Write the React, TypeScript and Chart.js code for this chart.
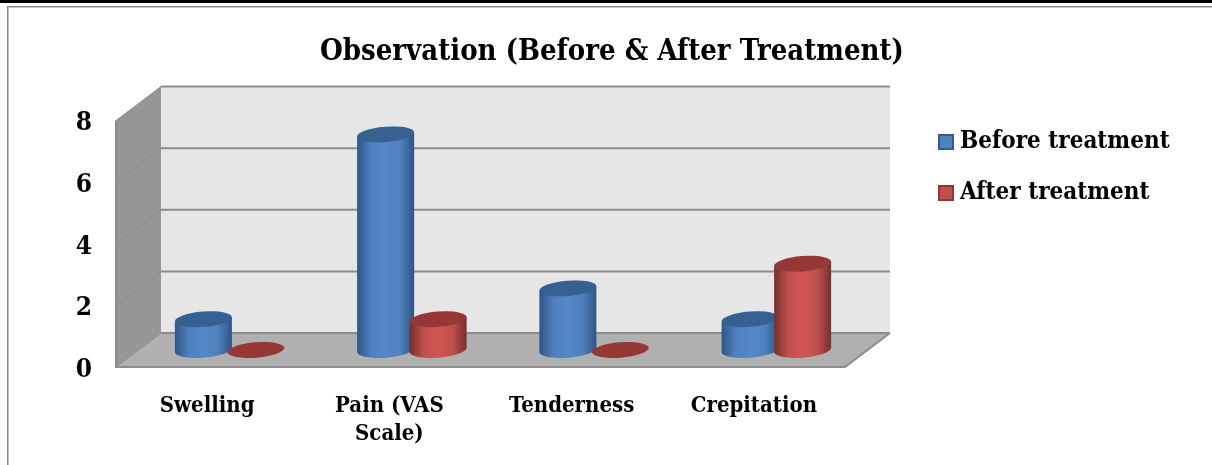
import React, { useEffect, useRef } from "react";
import { Chart, registerables } from "chart.js";

Chart.register(...registerables);

const categories = ["Swelling", ["Pain (VAS", "Scale)"], "Tenderness", "Crepitation"];
const beforeTreatment = [1, 7, 2, 1];
const afterTreatment = [0, 1, 0, 2.8];
const seriesNames = ["Before treatment", "After treatment"];
const yTicks = [0, 2, 4, 6, 8];
const titleText = "Observation (Before & After Treatment)";

const FONT = '"DejaVu Serif Condensed", "DejaVu Serif", serif';
const DX = 45;
const DY = -34;

const palette = [
  { edge: "#2f5486", mid: "#5587c9", top: "#376092", side: "#4f81bd", line: "#385d8a" },
  { edge: "#75302e", mid: "#d05552", top: "#953735", side: "#c0504d", line: "#8c3836" },
];

function marker(i: number) {
  const c = document.createElement("canvas");
  c.width = 16;
  c.height = 16;
  const g = c.getContext("2d")!;
  g.fillStyle = palette[i].side;
  g.fillRect(0, 0, 16, 16);
  g.strokeStyle = palette[i].line;
  g.lineWidth = 2;
  g.strokeRect(1, 1, 14, 14);
  return c;
}

const scene = {
  id: "scene",
  beforeLayout(chart: any) {
    const l = chart.legend;
    if (l && !l.__wrapped) {
      const fit = l.fit.bind(l);
      l.fit = () => {
        fit();
        l.width = 367;
      };
      l.__wrapped = true;
    }
  },
  afterLayout(chart: any) {
    chart.legend.left = 917;
    chart.legend.top = 103;
  },
  beforeDraw(chart: any) {
    const g = chart.ctx;
    g.save();
    g.fillStyle = "#fff";
    g.fillRect(0, 0, chart.width, chart.height);
    g.fillStyle = "#000";
    g.fillRect(0, 0, chart.width, 3);
    g.fillStyle = "#8a8a8a";
    g.fillRect(7, 6, chart.width - 7, 1.5);
    g.fillRect(7, 6, 1.5, chart.height - 6);
    g.restore();
  },
  beforeDatasetsDraw(chart: any) {
    const g = chart.ctx;
    const { left, right } = chart.chartArea;
    const y = chart.scales.y;
    const y0 = y.getPixelForValue(0);
    const y8 = y.getPixelForValue(8);
    const poly = (pts: number[][], fill: string) => {
      g.beginPath();
      pts.forEach((p, i) => (i ? g.lineTo(p[0], p[1]) : g.moveTo(p[0], p[1])));
      g.closePath();
      g.fillStyle = fill;
      g.fill();
    };
    g.save();
    poly([[left + DX, y8 + DY], [right + DX, y8 + DY], [right + DX, y0 + DY], [left + DX, y0 + DY]], "#e6e6e6");
    poly([[left, y8], [left + DX, y8 + DY], [left + DX, y0 + DY], [left, y0]], "#969696");
    poly([[left, y0], [left + DX, y0 + DY], [right + DX, y0 + DY], [right, y0]], "#b0b0b0");
    yTicks.forEach((t) => {
      const p = y.getPixelForValue(t);
      g.strokeStyle = "#8c8c8c";
      g.lineWidth = 1;
      g.beginPath();
      g.moveTo(left, p);
      g.lineTo(left + DX, p + DY);
      g.stroke();
      g.lineWidth = 2;
      g.beginPath();
      g.moveTo(left + DX, p + DY);
      g.lineTo(right + DX, p + DY);
      g.stroke();
    });
    g.strokeStyle = "#8c8c8c";
    g.lineWidth = 2;
    g.beginPath();
    g.moveTo(left, y8);
    g.lineTo(left, y0);
    g.lineTo(right, y0);
    g.lineTo(right + DX, y0 + DY);
    g.stroke();
    g.restore();
  },
  beforeDatasetDraw() {
    return false;
  },
  afterDatasetsDraw(chart: any) {
    const g = chart.ctx;
    const rot = -0.08;
    chart.data.datasets.forEach((_: any, ds: number) => {
      const c = palette[ds];
      chart.getDatasetMeta(ds).data.forEach((el: any) => {
        const p = el.getProps(["x", "y", "base", "width"], true);
        const cx = p.x + DX / 2;
        const top = p.y + DY / 2;
        const bot = p.base + DY / 2;
        const rx = p.width / 2;
        const ry = rx * 0.27;
        const tilt = 2.1;
        const grad = g.createLinearGradient(cx - rx, 0, cx + rx, 0);
        grad.addColorStop(0, c.edge);
        grad.addColorStop(0.25, c.side);
        grad.addColorStop(0.5, c.mid);
        grad.addColorStop(0.75, c.side);
        grad.addColorStop(1, c.edge);
        g.save();
        if (bot - top > 0.5) {
          g.beginPath();
          g.moveTo(cx - rx, top + tilt);
          g.lineTo(cx + rx, top - tilt);
          g.lineTo(cx + rx, bot - tilt);
          g.lineTo(cx - rx, bot + tilt);
          g.closePath();
          g.fillStyle = grad;
          g.fill();
          g.beginPath();
          g.ellipse(cx, bot, rx, ry, rot, 0, Math.PI * 2);
          g.fillStyle = grad;
          g.fill();
        }
        g.beginPath();
        g.ellipse(cx, top, rx, ry, rot, 0, Math.PI * 2);
        g.fillStyle = c.top;
        g.fill();
        g.restore();
      });
    });
  },
};

export default function App() {
  const ref = useRef<HTMLCanvasElement>(null);
  useEffect(() => {
    const markers = [marker(0), marker(1)];
    const chart = new Chart(ref.current!, {
      type: "bar",
      plugins: [scene],
      data: {
        labels: categories as any,
        datasets: [
          { label: seriesNames[0], data: beforeTreatment, backgroundColor: palette[0].side, categoryPercentage: 0.576, barPercentage: 1.086 },
          { label: seriesNames[1], data: afterTreatment, backgroundColor: palette[1].side, categoryPercentage: 0.576, barPercentage: 1.086 },
        ],
      },
      options: {
        animation: false,
        responsive: false,
        devicePixelRatio: 1,
        layout: { padding: { left: 12, right: 0, top: 0, bottom: 0 } },
        plugins: {
          tooltip: { enabled: false },
          title: {
            display: true,
            text: titleText,
            color: "#000",
            font: { family: FONT, size: 29, weight: "bold", lineHeight: 1.2 },
            padding: { top: 35, bottom: 50.8 },
          },
          legend: {
            display: true,
            position: "right",
            align: "start",
            labels: {
              color: "#000",
              font: { family: FONT, size: 24, weight: "bold" },
              padding: 27,
              usePointStyle: true,
              pointStyleWidth: 4,
              generateLabels: (c: any) =>
                (Chart.defaults.plugins.legend.labels as any).generateLabels(c).map((it: any, i: number) => ({
                  ...it,
                  pointStyle: markers[i],
                })),
            },
          },
        },
        scales: {
          x: {
            grid: { display: false, drawTicks: false },
            border: { display: false },
            ticks: {
              color: "#000",
              font: { family: FONT, size: 22, weight: "bold", lineHeight: 1.27 },
              padding: 25,
              maxRotation: 0,
              autoSkip: false,
            },
            afterFit: (s: any) => {
              s.height = 98;
            },
          },
          y: {
            min: 0,
            max: 8,
            grid: { display: false, drawTicks: false },
            border: { display: false },
            ticks: {
              stepSize: 2,
              color: "#000",
              font: { family: FONT, size: 26, weight: "bold" },
              padding: 24,
              labelOffset: 3,
            },
            afterFit: (s: any) => {
              s.width = 104;
            },
          },
        },
      } as any,
    });
    return () => chart.destroy();
  }, []);
  return (
    <div style={{ position: "absolute", left: 0, top: 0, width: 1212, height: 465 }}>
      <canvas ref={ref} width={1212} height={465} style={{ display: "block" }} />
    </div>
  );
}
